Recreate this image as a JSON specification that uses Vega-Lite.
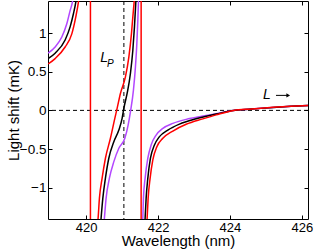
{
  "$schema": "https://vega.github.io/schema/vega-lite/v6.json",
  "width": 260,
  "height": 218,
  "autosize": {"type": "none"},
  "padding": {"left": 48, "top": 1, "right": 8, "bottom": 30},
  "config": {
    "view": {"stroke": "#000", "strokeWidth": 1},
    "font": "Liberation Sans",
    "axis": {
      "grid": false, "domain": false, "tickColor": "#000", "tickSize": -4, "tickWidth": 1,
      "labelColor": "#000", "labelFontSize": 13.5, "titleFontSize": 15, "titleFontWeight": "normal",
      "titleColor": "#000", "labelFont": "Liberation Sans", "titleFont": "Liberation Sans"
    }
  },
  "datasets": {
    "curves": [
      {"s": "purple", "g": "a", "x": 418.943, "y": 0.74},
      {"s": "purple", "g": "a", "x": 419.138, "y": 0.82},
      {"s": "purple", "g": "a", "x": 419.324, "y": 0.95},
      {"s": "purple", "g": "a", "x": 419.463, "y": 1.12},
      {"s": "purple", "g": "a", "x": 419.555, "y": 1.29},
      {"s": "purple", "g": "a", "x": 419.619, "y": 1.40},
      {"s": "purple", "g": "a", "x": 419.66, "y": 1.52},
      {"s": "purple", "g": "b", "x": 420.48, "y": -1.55},
      {"s": "purple", "g": "b", "x": 420.509, "y": -1.39},
      {"s": "purple", "g": "b", "x": 420.556, "y": -1.135},
      {"s": "purple", "g": "b", "x": 420.648, "y": -0.877},
      {"s": "purple", "g": "b", "x": 420.771, "y": -0.663},
      {"s": "purple", "g": "b", "x": 420.910, "y": -0.49},
      {"s": "purple", "g": "b", "x": 421.077, "y": -0.361},
      {"s": "purple", "g": "b", "x": 421.168, "y": -0.19},
      {"s": "purple", "g": "b", "x": 421.232, "y": -0.018},
      {"s": "purple", "g": "b", "x": 421.316, "y": 0.262},
      {"s": "purple", "g": "b", "x": 421.371, "y": 0.56},
      {"s": "purple", "g": "b", "x": 421.410, "y": 0.86},
      {"s": "purple", "g": "b", "x": 421.438, "y": 1.165},
      {"s": "purple", "g": "b", "x": 421.455, "y": 1.40},
      {"s": "purple", "g": "b", "x": 421.465, "y": 1.55},
      {"s": "purple", "g": "c", "x": 421.56, "y": -1.55},
      {"s": "purple", "g": "c", "x": 421.577, "y": -1.39},
      {"s": "purple", "g": "c", "x": 421.594, "y": -1.135},
      {"s": "purple", "g": "c", "x": 421.641, "y": -0.877},
      {"s": "purple", "g": "c", "x": 421.716, "y": -0.619},
      {"s": "purple", "g": "c", "x": 421.808, "y": -0.448},
      {"s": "purple", "g": "c", "x": 421.947, "y": -0.319},
      {"s": "purple", "g": "c", "x": 422.134, "y": -0.232},
      {"s": "purple", "g": "c", "x": 422.412, "y": -0.168},
      {"s": "purple", "g": "c", "x": 422.782, "y": -0.116},
      {"s": "purple", "g": "c", "x": 423.246, "y": -0.074},
      {"s": "purple", "g": "c", "x": 423.616, "y": -0.042},
      {"s": "purple", "g": "c", "x": 424.08, "y": 0.0},
      {"s": "purple", "g": "c", "x": 424.6, "y": 0.017},
      {"s": "purple", "g": "c", "x": 425.2, "y": 0.038},
      {"s": "purple", "g": "c", "x": 425.7, "y": 0.052},
      {"s": "purple", "g": "c", "x": 426.3, "y": 0.067},
      {"s": "black", "g": "a", "x": 418.943, "y": 0.67},
      {"s": "black", "g": "a", "x": 419.138, "y": 0.74},
      {"s": "black", "g": "a", "x": 419.416, "y": 0.91},
      {"s": "black", "g": "a", "x": 419.555, "y": 1.08},
      {"s": "black", "g": "a", "x": 419.647, "y": 1.25},
      {"s": "black", "g": "a", "x": 419.713, "y": 1.40},
      {"s": "black", "g": "a", "x": 419.75, "y": 1.52},
      {"s": "black", "g": "b", "x": 420.39, "y": -1.55},
      {"s": "black", "g": "b", "x": 420.417, "y": -1.39},
      {"s": "black", "g": "b", "x": 420.465, "y": -1.135},
      {"s": "black", "g": "b", "x": 420.537, "y": -0.877},
      {"s": "black", "g": "b", "x": 420.631, "y": -0.619},
      {"s": "black", "g": "b", "x": 420.771, "y": -0.405},
      {"s": "black", "g": "b", "x": 420.910, "y": -0.254},
      {"s": "black", "g": "b", "x": 421.001, "y": -0.103},
      {"s": "black", "g": "b", "x": 421.049, "y": 0.026},
      {"s": "black", "g": "b", "x": 421.140, "y": 0.219},
      {"s": "black", "g": "b", "x": 421.232, "y": 0.477},
      {"s": "black", "g": "b", "x": 421.299, "y": 0.778},
      {"s": "black", "g": "b", "x": 421.344, "y": 1.08},
      {"s": "black", "g": "b", "x": 421.382, "y": 1.40},
      {"s": "black", "g": "b", "x": 421.40, "y": 1.55},
      {"s": "black", "g": "c", "x": 421.625, "y": -1.55},
      {"s": "black", "g": "c", "x": 421.641, "y": -1.39},
      {"s": "black", "g": "c", "x": 421.669, "y": -1.135},
      {"s": "black", "g": "c", "x": 421.716, "y": -0.877},
      {"s": "black", "g": "c", "x": 421.789, "y": -0.619},
      {"s": "black", "g": "c", "x": 421.900, "y": -0.448},
      {"s": "black", "g": "c", "x": 422.039, "y": -0.34},
      {"s": "black", "g": "c", "x": 422.273, "y": -0.254},
      {"s": "black", "g": "c", "x": 422.595, "y": -0.177},
      {"s": "black", "g": "c", "x": 423.060, "y": -0.108},
      {"s": "black", "g": "c", "x": 423.616, "y": -0.048},
      {"s": "black", "g": "c", "x": 424.09, "y": 0.0},
      {"s": "black", "g": "c", "x": 424.6, "y": 0.017},
      {"s": "black", "g": "c", "x": 425.2, "y": 0.038},
      {"s": "black", "g": "c", "x": 425.7, "y": 0.052},
      {"s": "black", "g": "c", "x": 426.3, "y": 0.067},
      {"s": "red", "g": "a", "x": 418.943, "y": 0.60},
      {"s": "red", "g": "a", "x": 419.138, "y": 0.67},
      {"s": "red", "g": "a", "x": 419.416, "y": 0.82},
      {"s": "red", "g": "a", "x": 419.602, "y": 0.99},
      {"s": "red", "g": "a", "x": 419.713, "y": 1.21},
      {"s": "red", "g": "a", "x": 419.786, "y": 1.40},
      {"s": "red", "g": "a", "x": 419.82, "y": 1.52},
      {"s": "red", "g": "b", "x": 420.30, "y": -1.55},
      {"s": "red", "g": "b", "x": 420.334, "y": -1.39},
      {"s": "red", "g": "b", "x": 420.370, "y": -1.135},
      {"s": "red", "g": "b", "x": 420.445, "y": -0.877},
      {"s": "red", "g": "b", "x": 420.537, "y": -0.619},
      {"s": "red", "g": "b", "x": 420.676, "y": -0.361},
      {"s": "red", "g": "b", "x": 420.798, "y": -0.103},
      {"s": "red", "g": "b", "x": 420.862, "y": 0.026},
      {"s": "red", "g": "b", "x": 420.954, "y": 0.219},
      {"s": "red", "g": "b", "x": 421.093, "y": 0.434},
      {"s": "red", "g": "b", "x": 421.188, "y": 0.69},
      {"s": "red", "g": "b", "x": 421.260, "y": 0.99},
      {"s": "red", "g": "b", "x": 421.299, "y": 1.21},
      {"s": "red", "g": "b", "x": 421.335, "y": 1.40},
      {"s": "red", "g": "b", "x": 421.36, "y": 1.55},
      {"s": "red", "g": "c", "x": 421.68, "y": -1.55},
      {"s": "red", "g": "c", "x": 421.697, "y": -1.39},
      {"s": "red", "g": "c", "x": 421.725, "y": -1.135},
      {"s": "red", "g": "c", "x": 421.780, "y": -0.877},
      {"s": "red", "g": "c", "x": 421.855, "y": -0.64},
      {"s": "red", "g": "c", "x": 421.967, "y": -0.47},
      {"s": "red", "g": "c", "x": 422.134, "y": -0.361},
      {"s": "red", "g": "c", "x": 422.412, "y": -0.267},
      {"s": "red", "g": "c", "x": 422.782, "y": -0.18},
      {"s": "red", "g": "c", "x": 423.246, "y": -0.11},
      {"s": "red", "g": "c", "x": 423.616, "y": -0.058},
      {"s": "red", "g": "c", "x": 424.10, "y": 0.0},
      {"s": "red", "g": "c", "x": 424.6, "y": 0.018},
      {"s": "red", "g": "c", "x": 425.2, "y": 0.039},
      {"s": "red", "g": "c", "x": 425.7, "y": 0.053},
      {"s": "red", "g": "c", "x": 426.3, "y": 0.068}
    ]
  },
  "resolve": {"axis": {"x": "independent", "y": "independent"}},
  "layer": [
    {
      "data": {"values": [{"y": 0}]},
      "mark": {"type": "rule", "color": "#000", "strokeWidth": 1, "strokeDash": [4, 3]},
      "encoding": {
        "y": {"field": "y", "type": "quantitative", "scale": {"domain": [-1.405, 1.415], "nice": false, "zero": false},
              "axis": {"orient": "right", "labels": false, "title": null, "values": [-1, -0.5, 0, 0.5, 1]}}
      }
    },
    {
      "data": {"values": [{"x": 421.05}]},
      "mark": {"type": "rule", "color": "#000", "strokeWidth": 1, "strokeDash": [4, 3]},
      "encoding": {
        "x": {"field": "x", "type": "quantitative", "scale": {"domain": [418.94, 426.17], "nice": false, "zero": false},
              "axis": {"orient": "top", "labels": false, "title": null, "values": [420, 422, 424, 426]}}
      }
    },
    {
      "data": {"values": [{"x": 420.12}, {"x": 421.53}]},
      "mark": {"type": "rule", "color": "#ff0000", "strokeWidth": 1.5},
      "encoding": {
        "x": {"field": "x", "type": "quantitative", "axis": null}
      }
    },
    {
      "data": {"name": "curves"},
      "mark": {"type": "line", "strokeWidth": 1.5, "clip": true, "interpolate": "monotone"},
      "encoding": {
        "x": {"field": "x", "type": "quantitative",
              "axis": {"orient": "bottom", "title": "Wavelength (nm)", "values": [420, 422, 424, 426], "labelFontSize": 13, "labelPadding": 6, "titleY": 26, "titleBaseline": "alphabetic"}},
        "y": {"field": "y", "type": "quantitative",
              "axis": {"orient": "left", "title": "Light shift (mK)", "values": [-1, -0.5, 0, 0.5, 1], "format": "~g", "labelPadding": 6, "titleX": -30, "titleBaseline": "alphabetic"}},
        "color": {"field": "s", "type": "nominal", "legend": null,
                  "scale": {"domain": ["purple", "black", "red"], "range": ["#b347ff", "#000000", "#ff0000"]}},
        "detail": {"field": "g"},
        "order": {"field": "x", "type": "quantitative"}
      }
    },
    {
      "data": {"values": [
        {"x": 420.39, "y": 0.623, "t": "L", "sz": 14},
        {"x": 420.584, "y": 0.559, "t": "P", "sz": 10},
        {"x": 424.92, "y": 0.142, "t": "L", "sz": 14}
      ]},
      "mark": {"type": "text", "align": "left", "baseline": "alphabetic", "fontStyle": "italic", "color": "#000", "font": "Liberation Sans"},
      "encoding": {
        "x": {"field": "x", "type": "quantitative", "axis": null},
        "y": {"field": "y", "type": "quantitative", "axis": null},
        "text": {"field": "t"},
        "size": {"field": "sz", "type": "quantitative", "scale": null}
      }
    },
    {
      "data": {"values": [{"x": 425.28, "x2": 425.62, "y": 0.194}]},
      "mark": {"type": "rule", "color": "#000", "strokeWidth": 1},
      "encoding": {
        "x": {"field": "x", "type": "quantitative", "axis": null},
        "x2": {"field": "x2"},
        "y": {"field": "y", "type": "quantitative", "axis": null}
      }
    },
    {
      "data": {"values": [{"x": 425.62, "y": 0.194}]},
      "mark": {"type": "point", "shape": "triangle-right", "filled": true, "color": "#000", "size": 18, "opacity": 1},
      "encoding": {
        "x": {"field": "x", "type": "quantitative", "axis": null},
        "y": {"field": "y", "type": "quantitative", "axis": null}
      }
    }
  ]
}
